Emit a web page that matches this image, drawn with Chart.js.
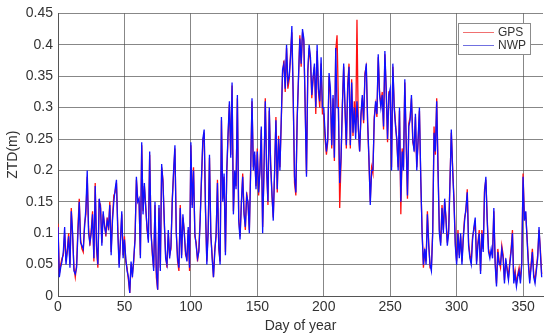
<!DOCTYPE html>
<html>
<head>
<meta charset="utf-8">
<script src="https://cdn.jsdelivr.net/npm/chart.js@4"></script>
<style>
  html, body { margin: 0; padding: 0; background: #fff; }
  #wrap { width: 550px; height: 336px; }
</style>
</head>
<body>
<div id="wrap"><canvas id="ztdChart" width="550" height="336"></canvas></div>
<script>
// tick labels
const xTicks = [0, 50, 100, 150, 200, 250, 300, 350];
const yTicks = [0, 0.05, 0.1, 0.15, 0.2, 0.25, 0.3, 0.35, 0.4, 0.45];

// NWP ZTD, one value per day
const nwpValues = [
    0.11, 0.03, 0.045, 0.055, 0.07, 0.11, 0.05, 0.07, 0.095, 0.045,
    0.135, 0.1, 0.04, 0.035, 0.045, 0.1, 0.15, 0.085, 0.08, 0.075,
    0.11, 0.14, 0.2, 0.1, 0.085, 0.1, 0.13, 0.06, 0.175, 0.08,
    0.05, 0.155, 0.14, 0.08, 0.135, 0.11, 0.1, 0.12, 0.11, 0.145,
    0.065, 0.12, 0.15, 0.17, 0.185, 0.1, 0.045, 0.09, 0.135, 0.06,
    0.09, 0.06, 0.04, 0.03, 0.005, 0.055, 0.03, 0.06, 0.09, 0.19,
    0.15, 0.155, 0.06, 0.245, 0.13, 0.18, 0.14, 0.11, 0.085, 0.23,
    0.1, 0.07, 0.04, 0.15, 0.04, 0.01, 0.145, 0.04, 0.21, 0.18,
    0.12, 0.06, 0.05, 0.105, 0.06, 0.08, 0.15, 0.2, 0.24, 0.1,
    0.06, 0.045, 0.14, 0.06, 0.13, 0.1, 0.07, 0.055, 0.11, 0.045,
    0.245, 0.14, 0.2, 0.1, 0.08, 0.06, 0.07, 0.12, 0.19, 0.25,
    0.265, 0.14, 0.05, 0.1, 0.225, 0.1, 0.06, 0.03, 0.07, 0.1,
    0.18, 0.08, 0.05, 0.285, 0.15, 0.195, 0.065, 0.2, 0.26, 0.31,
    0.22, 0.34, 0.13, 0.2, 0.17, 0.32, 0.12, 0.09, 0.15, 0.19,
    0.13, 0.11, 0.16, 0.15, 0.1, 0.2, 0.315, 0.2, 0.23, 0.17,
    0.23, 0.165, 0.2, 0.27, 0.1, 0.2, 0.31, 0.2, 0.15, 0.3,
    0.21, 0.165, 0.12, 0.2, 0.28, 0.17, 0.25, 0.2, 0.28, 0.36,
    0.37, 0.33, 0.4, 0.34, 0.35, 0.38, 0.43, 0.32, 0.19, 0.165,
    0.28, 0.35, 0.41, 0.37, 0.425, 0.41, 0.3, 0.19, 0.36, 0.4,
    0.38, 0.32, 0.35, 0.37, 0.3, 0.4, 0.33, 0.31, 0.38, 0.3,
    0.3, 0.26, 0.23, 0.25, 0.355, 0.33, 0.24, 0.32, 0.22, 0.395,
    0.3, 0.3, 0.18, 0.22, 0.3, 0.37, 0.3, 0.24, 0.33, 0.365,
    0.24, 0.34, 0.26, 0.3, 0.25, 0.31, 0.27, 0.23, 0.29, 0.32,
    0.28, 0.35, 0.37, 0.28, 0.22, 0.145, 0.2, 0.2, 0.28, 0.31,
    0.29, 0.385, 0.32, 0.3, 0.32, 0.27, 0.39, 0.33, 0.25, 0.32,
    0.33, 0.2, 0.37, 0.3, 0.27, 0.25, 0.2, 0.3, 0.15, 0.23,
    0.2, 0.345, 0.25, 0.16, 0.27, 0.28, 0.32, 0.25, 0.23, 0.29,
    0.2, 0.25, 0.3, 0.19, 0.1, 0.05, 0.075, 0.05, 0.13, 0.08,
    0.05, 0.04, 0.1, 0.26, 0.23, 0.31, 0.2, 0.1, 0.08, 0.14,
    0.1, 0.155, 0.12, 0.08, 0.1, 0.18, 0.265, 0.2, 0.15, 0.08,
    0.05, 0.1, 0.06, 0.1, 0.05, 0.09, 0.12, 0.14, 0.165, 0.08,
    0.06, 0.05, 0.09, 0.11, 0.125, 0.05, 0.08, 0.1, 0.035, 0.1,
    0.07, 0.165, 0.19, 0.12, 0.07, 0.06, 0.075, 0.06, 0.14, 0.05,
    0.015, 0.07, 0.05, 0.05, 0.075, 0.06, 0.02, 0.06, 0.04, 0.025,
    0.05, 0.07, 0.1, 0.02, 0.035, 0.015, 0.03, 0.04, 0.02, 0.05,
    0.19, 0.12, 0.135, 0.09, 0.05, 0.02, 0.045, 0.07, 0.03, 0.02,
    0.04, 0.06, 0.11, 0.07, 0.03
];

// GPS ZTD, one value per day
const gpsValues = [
    0.115, 0.035, 0.05, 0.06, 0.065, 0.1, 0.055, 0.075, 0.1, 0.05,
    0.14, 0.095, 0.045, 0.03, 0.05, 0.11, 0.155, 0.09, 0.075, 0.07,
    0.115, 0.13, 0.19, 0.11, 0.08, 0.105, 0.135, 0.055, 0.18, 0.075,
    0.045, 0.15, 0.145, 0.085, 0.13, 0.115, 0.095, 0.125, 0.105, 0.15,
    0.07, 0.125, 0.16, 0.165, 0.18, 0.11, 0.05, 0.085, 0.13, 0.065,
    0.095, 0.055, 0.045, 0.025, 0.005, 0.05, 0.035, 0.055, 0.095, 0.185,
    0.155, 0.15, 0.065, 0.24, 0.135, 0.175, 0.145, 0.105, 0.09, 0.225,
    0.105, 0.065, 0.045, 0.145, 0.03, 0.01, 0.14, 0.045, 0.205, 0.185,
    0.115, 0.065, 0.045, 0.1, 0.065, 0.075, 0.155, 0.195, 0.235, 0.105,
    0.055, 0.04, 0.145, 0.065, 0.125, 0.105, 0.065, 0.06, 0.105, 0.04,
    0.24, 0.145, 0.205, 0.095, 0.085, 0.055, 0.075, 0.125, 0.185, 0.245,
    0.26, 0.135, 0.055, 0.105, 0.22, 0.095, 0.065, 0.03, 0.075, 0.095,
    0.185, 0.075, 0.055, 0.28, 0.155, 0.19, 0.07, 0.195, 0.255, 0.305,
    0.225, 0.335, 0.135, 0.195, 0.175, 0.315, 0.125, 0.095, 0.145, 0.195,
    0.135, 0.105, 0.165, 0.145, 0.105, 0.205, 0.31, 0.205, 0.225, 0.175,
    0.235, 0.16, 0.205, 0.265, 0.11, 0.195, 0.315, 0.205, 0.145, 0.295,
    0.215, 0.16, 0.125, 0.195, 0.285, 0.165, 0.255, 0.205, 0.275, 0.355,
    0.375, 0.325, 0.395, 0.33, 0.345, 0.385, 0.42, 0.315, 0.18, 0.16,
    0.285, 0.345, 0.415, 0.365, 0.42, 0.405, 0.305, 0.195, 0.355, 0.395,
    0.375, 0.315, 0.345, 0.365, 0.29, 0.39, 0.325, 0.3, 0.37, 0.29,
    0.29, 0.25, 0.225, 0.245, 0.35, 0.32, 0.235, 0.315, 0.215, 0.39,
    0.415, 0.31, 0.14, 0.215, 0.305, 0.365, 0.295, 0.235, 0.335, 0.37,
    0.235, 0.345, 0.255, 0.31, 0.26, 0.44, 0.265, 0.23, 0.285, 0.315,
    0.275, 0.355, 0.365, 0.275, 0.215, 0.15, 0.205, 0.195, 0.285, 0.305,
    0.285, 0.38, 0.325, 0.305, 0.325, 0.265, 0.385, 0.325, 0.245, 0.325,
    0.325, 0.205, 0.365, 0.305, 0.275, 0.245, 0.205, 0.295, 0.13, 0.235,
    0.205, 0.34, 0.245, 0.155, 0.275, 0.285, 0.315, 0.245, 0.235, 0.285,
    0.205, 0.245, 0.295, 0.185, 0.105, 0.045, 0.07, 0.055, 0.135, 0.085,
    0.045, 0.045, 0.105, 0.27, 0.225, 0.315, 0.205, 0.105, 0.085, 0.145,
    0.105, 0.15, 0.125, 0.085, 0.105, 0.185, 0.26, 0.205, 0.155, 0.085,
    0.055, 0.105, 0.065, 0.095, 0.055, 0.095, 0.125, 0.135, 0.17, 0.085,
    0.065, 0.055, 0.095, 0.105, 0.12, 0.055, 0.085, 0.105, 0.04, 0.105,
    0.075, 0.17, 0.185, 0.125, 0.075, 0.065, 0.07, 0.065, 0.135, 0.055,
    0.02, 0.075, 0.055, 0.045, 0.08, 0.065, 0.025, 0.055, 0.045, 0.03,
    0.055, 0.075, 0.105, 0.025, 0.04, 0.02, 0.035, 0.045, 0.025, 0.055,
    0.195, 0.125, 0.13, 0.095, 0.055, 0.025, 0.05, 0.075, 0.035, 0.025,
    0.045, 0.065, 0.105, 0.075, 0.035
];

// day of year for each value
const days = nwpValues.map((v, i) => i);

const FONT = 'Helvetica, "Liberation Sans", Arial, sans-serif';
const TEXT_COLOR = '#333333';
const GRID_COLOR = 'rgba(70, 70, 70, 0.65)';

// legend in the top right corner of the plot, MATLAB style
const boxLegend = {
    id: 'boxLegend',
    afterDraw(chart) {
        const ctx = chart.ctx;
        const x = 458, y = 23, w = 72, h = 31;
        ctx.save();
        ctx.fillStyle = '#fff';
        ctx.fillRect(x, y, w, h);
        ctx.strokeStyle = '#8c8c8c';
        ctx.lineWidth = 1;
        ctx.strokeRect(x + 0.5, y + 0.5, w, h);
        ctx.font = '12px ' + FONT;
        ctx.textBaseline = 'middle';
        const lineColors = ['#f07070', '#7070e0'];
        chart.data.datasets.forEach((ds, i) => {
            const ly = y + 9 + i * 13;
            ctx.strokeStyle = lineColors[i];
            ctx.beginPath();
            ctx.moveTo(x + 5, ly + 0.5);
            ctx.lineTo(x + 36, ly + 0.5);
            ctx.stroke();
            ctx.fillStyle = TEXT_COLOR;
            ctx.fillText(ds.label, x + 40, ly + 1);
        });
        ctx.restore();
    }
};

const ctx = document.getElementById('ztdChart').getContext('2d');

new Chart(ctx, {
    type: 'line',
    data: {
        datasets: [
            {
                label: 'GPS',
                data: days.map((d, i) => ({ x: d, y: gpsValues[i] })),
                borderColor: '#ff1010',
                borderWidth: 1.3,
                pointRadius: 0,
                order: 1,
            },
            {
                label: 'NWP',
                data: days.map((d, i) => ({ x: d, y: nwpValues[i] })),
                borderColor: '#1010ff',
                borderWidth: 1.3,
                pointRadius: 0,
                order: 0,
            },
        ],
    },
    options: {
        responsive: false,
        animation: false,
        layout: { padding: { top: 13, right: 7, left: 0, bottom: 0 } },
        plugins: {
            legend: { display: false },
            tooltip: { enabled: false },
        },
        scales: {
            x: {
                type: 'linear',
                min: 0,
                max: 365,
                afterBuildTicks: (s) => { s.ticks = xTicks.map(v => ({ value: v })); },
                afterFit: (s) => { s.height = 40; },
                ticks: {
                    font: { size: 14, family: FONT },
                    color: TEXT_COLOR,
                    padding: 3,
                    maxRotation: 0,
                },
                grid: { color: GRID_COLOR, tickLength: 0 },
                border: { color: '#555', width: 1 },
                title: {
                    display: true,
                    text: 'Day of year',
                    font: { size: 14, family: FONT },
                    color: TEXT_COLOR,
                    padding: { top: 0, bottom: 1 },
                },
            },
            y: {
                min: 0,
                max: 0.45,
                afterBuildTicks: (s) => { s.ticks = yTicks.map(v => ({ value: v })); },
                afterFit: (s) => { s.width = 58; },
                ticks: {
                    font: { size: 14, family: FONT },
                    color: TEXT_COLOR,
                    padding: 5,
                    callback: (v) => String(+v.toFixed(2)),
                },
                grid: { color: GRID_COLOR, tickLength: 0 },
                border: { color: '#555', width: 1 },
                title: {
                    display: true,
                    text: 'ZTD(m)',
                    font: { size: 14, family: FONT },
                    color: TEXT_COLOR,
                    padding: { top: 5, bottom: 0 },
                },
            },
        },
    },
    plugins: [boxLegend],
});
</script>
</body>
</html>
